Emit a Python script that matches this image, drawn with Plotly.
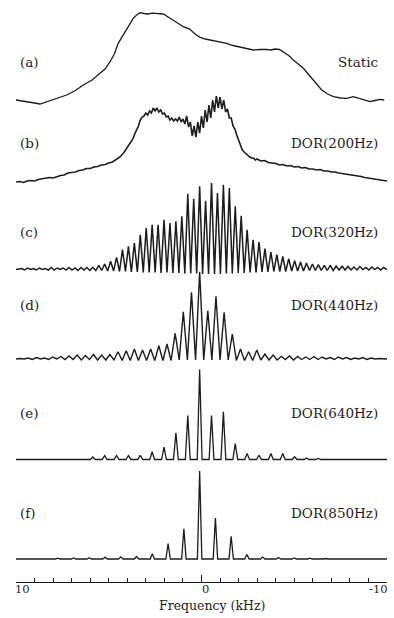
import plotly.graph_objects as go

INK = "#1c1c1c"

# ---------------------------------------------------------------------------
# Spectra: frequency in kHz, intensity in arbitrary units
# ---------------------------------------------------------------------------

# (a) static line shape
static_khz = [10.0, 9.6, 9.35, 9.0, 8.71, 8.4, 7.99, 7.6, 7.27, 6.8,
              6.37, 5.9, 5.47, 5.2, 4.93, 4.7, 4.49, 4.25, 4.03, 3.85,
              3.68, 3.5, 3.32, 3.1, 2.87, 2.65, 2.42, 2.2, 2.06, 1.8,
              1.52, 1.25, 0.98, 0.8, 0.62, 0.35, 0.08, -0.2, -0.46, -0.9,
              -1.36, -1.7, -2.08, -2.45, -2.79, -3.15, -3.51, -3.75, -3.96, -4.2,
              -4.41, -4.7, -4.95, -5.2, -5.49, -5.75, -6.03, -6.25, -6.48, -6.8,
              -7.11, -7.5, -7.83, -8.18, -8.45, -8.73, -9.08, -9.35, -9.62, -9.85]
static_int = [0, -1, -2, -3, -4, -2, 0, 2.5, 5, 9.5,
              15, 20, 26.7, 31, 38.3, 46, 56.7, 64, 71.7, 77,
              81.7, 85, 87.3, 86.5, 86, 86.8, 86.7, 86, 86, 83,
              80, 76.5, 73.3, 72, 70.7, 66, 62.7, 61, 60, 58.5,
              56.7, 54.5, 52.7, 51.5, 50, 50.5, 50.7, 50, 51, 50.5,
              48.3, 44.5, 40, 36, 31.7, 26, 20, 15, 10, 6,
              3.3, 2, 1.7, 3.3, 2, 0, -1.7, -0.5, 0.7, 0]

# (b) DOR at 200 Hz
dor200_khz = [10.0, 9.8, 9.6, 9.4, 9.2, 9.0, 8.8, 8.6, 8.4, 8.2,
              8.0, 7.8, 7.6, 7.4, 7.2, 7.0, 6.8, 6.6, 6.4, 6.2,
              6.0, 5.8, 5.6, 5.4, 5.2, 5.0, 4.8, 4.6, 4.4, 4.2,
              4.0, 3.9, 3.8, 3.7, 3.6, 3.5, 3.4, 3.3,
              3.2, 3.1, 3.0, 2.9, 2.8, 2.7, 2.6, 2.5, 2.4, 2.3,
              2.2, 2.1, 2.0, 1.9, 1.8, 1.7, 1.6, 1.5, 1.4, 1.3,
              1.2, 1.1,
              1.0, 0.9, 0.8, 0.7, 0.6, 0.5, 0.4, 0.3, 0.2, 0.1,
              0.0, -0.1, -0.2, -0.3, -0.4, -0.5, -0.6, -0.7, -0.8, -0.9,
              -1.0, -1.1, -1.2, -1.3, -1.4, -1.5, -1.6, -1.7, -1.8,
              -1.9, -2.0, -2.1, -2.2, -2.3, -2.4, -2.5, -2.6, -2.7, -2.8,
              -2.9, -3.0, -3.2, -3.4, -3.6, -3.8, -4.0, -4.2, -4.4, -4.6,
              -4.8, -5.0, -5.2, -5.4, -5.6, -5.8, -6.0, -6.2, -6.4, -6.6,
              -6.8, -7.0, -7.2, -7.4, -7.6, -7.8, -8.0, -8.2, -8.4, -8.6,
              -8.8, -9.0, -9.2, -9.4, -9.6, -9.8, -10.0]
dor200_int = [0, 0.5, -0.5, 1, 1.5, 1, 2.5, 3, 3.5, 4.5,
              4, 5.5, 6.5, 7, 9, 9.5, 10, 11.5, 12, 13.5,
              13.5, 15, 15.5, 17, 17.5, 19, 20, 22.5, 25, 29,
              35, 38, 41, 43, 48, 52, 56, 62,
              65, 66, 69, 67, 71, 69, 74, 71, 74, 70,
              72, 68, 69, 65, 66, 62, 64, 61, 63, 61,
              65, 60,
              63, 58, 66, 55, 60, 46, 56, 45, 60, 49,
              66, 54, 72, 60, 77, 64, 82, 70, 86, 74,
              85, 73, 82, 70, 73, 64, 64, 56, 53,
              47, 42, 37, 32, 30, 28, 26, 25, 24, 24,
              22, 23, 21, 21.5, 19.5, 19, 18.5, 17, 17.5, 16,
              16.5, 15, 15.5, 14, 14.5, 13, 13, 12, 12.5, 11,
              11, 10, 10, 9, 8.5, 8, 7, 7, 6, 5.5,
              4.5, 4, 3, 3, 2, 1.5, 1]

# Spinning-sideband spectra: centreband position, spinning rate (kHz),
# order of the first sideband listed, sideband heights, dips between them
CENTERBAND_KHZ = 0.1

dor320_rate = 0.32
dor320_first = -30
dor320_peaks = [1, 1.5, 1, 1.5, 1, 2, 1.5, 1.5, 2, 1.5, 2, 2,
                2.2, 4.2, 5.5, 8.2, 12.2, 19.8, 23.2, 26.5, 34.8, 41.5,
                44.8, 44.8, 49.8, 46.5, 48.2, 53.2, 75.8, 70.8,
                83.2, 68.8, 86.5, 76.5, 84.8, 81.5, 63.2, 53.8, 39.8, 29.8,
                27.5, 20.8, 17.5, 14.8, 13.2, 10.8, 8.8, 7.5, 6.5, 5.5,
                4.8, 4.2, 4.2, 3.5, 3.2,
                3, 2.5, 3, 2, 2.5, 2, 2]
dor320_dips = [-0.5, 0, -0.5, 0, -0.5, -0.5, 0, -0.5, -0.5, -1, -0.5, -1,
               -1, -1, -1.5, -1.5, -2, -2, -2.5, -2.5, -3, -3,
               -3, -3.5, -3, -3.5, -3.5, -4, -4, -4,
               -4.5, -4.5, -4.5, -4.5, -4, -4, -3.5, -3.5, -3, -3,
               -2.5, -2.5, -2, -2, -2, -1.5, -1.5, -1.5, -1, -1,
               -1, -1, -1, -0.5, -0.5,
               -0.5, -0.5, 0, -0.5, 0, -0.5]

dor440_rate = 0.44
dor440_first = -22
dor440_peaks = [0.5, 1, 1.5, 1, 2, 2.5, 3, 4, 3.5, 4.5, 4,
                4.5, 7.3, 8.3, 10, 9, 10, 13.3, 15, 25.7, 47.3, 66.7,
                87.3, 48.3, 62.7, 46.7, 25, 10, 7.3, 9, 5, 4, 2.7,
                3, 2.5, 2, 2.5, 2, 1.5, 2, 1.5, 1, 1.5, 1, 0.5]
dor440_dips = [0, -0.5, 0, -0.5, 0, -0.5, -0.5, -1, -0.5, -1, -1,
               -1, -1.5, -1.5, -1.5, -1.5, -1.5, -1.5, -1.5, -1, -1, -1,
               -1, -1, -1, -1, -1.5, -1.5, -1.5, -1, -1, -1, -0.5,
               -1, -0.5, -0.5, -0.5, 0, -0.5, 0, -0.5, 0, -0.5, 0]

dor640_rate = 0.64
dor640_first = -15
dor640_peaks = [0.3, 0.3, 0.3, 0.3, 0.5, 0.5, 2.5, 4, 4, 4, 4.3, 7.7, 12.3, 26.8, 44,
                90, 44, 47.7, 16, 6, 4.3, 6, 6, 2.7, 1.5, 1, 0.5, 0.5, 0.3, 0.3, 0.3]

dor850_rate = 0.85
dor850_first = -11
dor850_peaks = [0.5, 0.5, 0.8, 1, 1.2, 1.8, 2.2, 2.5, 5.3, 15.5, 30.3,
                88, 41, 22.7, 4.5, 2, 1.5, 1, 0.8, 0.5, 0.5, 0.5, 0.5]

panel_tags = ["(a)", "(b)", "(c)", "(d)", "(e)", "(f)"]
panel_names = ["Static", "DOR(200Hz)", "DOR(320Hz)", "DOR(440Hz)",
               "DOR(640Hz)", "DOR(850Hz)"]
tick_values = [10, 0, -10]
tick_texts = ["10", "0", "-10"]
x_title = "Frequency (kHz)"


def sideband_path(rate, first, peaks, dips=None, half_width=0.11):
    """Trace through each sideband; narrow spikes on a flat baseline when
    no dips are given, otherwise peak-dip-peak zigzag."""
    xs, ys = [10.0], [0.0]
    for i, h in enumerate(peaks):
        pos = CENTERBAND_KHZ - (first + i) * rate
        if dips is None:
            xs += [pos + half_width, pos, pos - half_width]
            ys += [0.0, h, 0.0]
        else:
            xs.append(pos)
            ys.append(h)
            if i < len(dips):
                xs.append(pos - rate / 2)
                ys.append(dips[i])
    xs.append(-10.0)
    ys.append(0.0)
    return xs, ys


spectra = [
    (static_khz, static_int),
    (dor200_khz, dor200_int),
    sideband_path(dor320_rate, dor320_first, dor320_peaks, dor320_dips),
    sideband_path(dor440_rate, dor440_first, dor440_peaks, dor440_dips),
    sideband_path(dor640_rate, dor640_first, dor640_peaks, half_width=0.13),
    sideband_path(dor850_rate, dor850_first, dor850_peaks, half_width=0.12),
]

# vertical stacking of the six panels (baseline of each trace)
baselines = [482, 400, 312.5, 223, 122.5, 23]
label_y = [520, 439, 350, 277, 169, 69]
line_widths = [1.3, 1.6, 1.5, 1.4, 1.3, 1.3]
PLOT_H = 582

fig = go.Figure()
for (xs, ys), base, lw in zip(spectra, baselines, line_widths):
    fig.add_trace(go.Scatter(
        x=xs, y=[base + v for v in ys], mode="lines",
        line=dict(color=INK, width=lw), hoverinfo="skip", showlegend=False,
    ))

font = dict(family="DejaVu Serif", size=13.5, color=INK)
for tag, name, y in zip(panel_tags, panel_names, label_y):
    fig.add_annotation(x=9.9, y=y, text=tag, showarrow=False,
                       xanchor="left", yanchor="middle", font=font)
    fig.add_annotation(x=-9.6, y=y, text=name, showarrow=False,
                       xanchor="right", yanchor="middle", font=font)

# frequency labels under the axis, then the axis title below them
for v, t in zip(tick_values, tick_texts):
    anchor = "left" if v == 10 else ("right" if v == -10 else "center")
    fig.add_annotation(x=v, xref="x", y=-14.5 / PLOT_H, yref="paper", text=t,
                       showarrow=False, xanchor=anchor, yanchor="bottom",
                       borderpad=0,
                       font=dict(family="DejaVu Serif", size=11.5, color=INK),
                       xshift=-2 if v == 10 else (2 if v == -10 else 4))
fig.add_annotation(x=-0.55, xref="x", y=-15 / PLOT_H, yref="paper",
                   text=x_title, showarrow=False, xanchor="center",
                   yanchor="top", borderpad=0,
                   font=dict(family="DejaVu Serif", size=12.5, color=INK))

fig.update_layout(
    width=394, height=618,
    margin=dict(l=16, r=7, t=0, b=36),
    paper_bgcolor="white", plot_bgcolor="white",
    xaxis=dict(range=[10, -10], showgrid=False, zeroline=False,
               showline=True, linecolor=INK, linewidth=1.2,
               ticks="inside", tickvals=tick_values, ticklen=7,
               tickcolor=INK, tickwidth=1.1, showticklabels=False,
               minor=dict(dtick=1, ticks="inside", ticklen=4,
                          tickcolor=INK, tickwidth=1, showgrid=False)),
    yaxis=dict(range=[0, PLOT_H], visible=False),
)

fig.write_html("out.html")
